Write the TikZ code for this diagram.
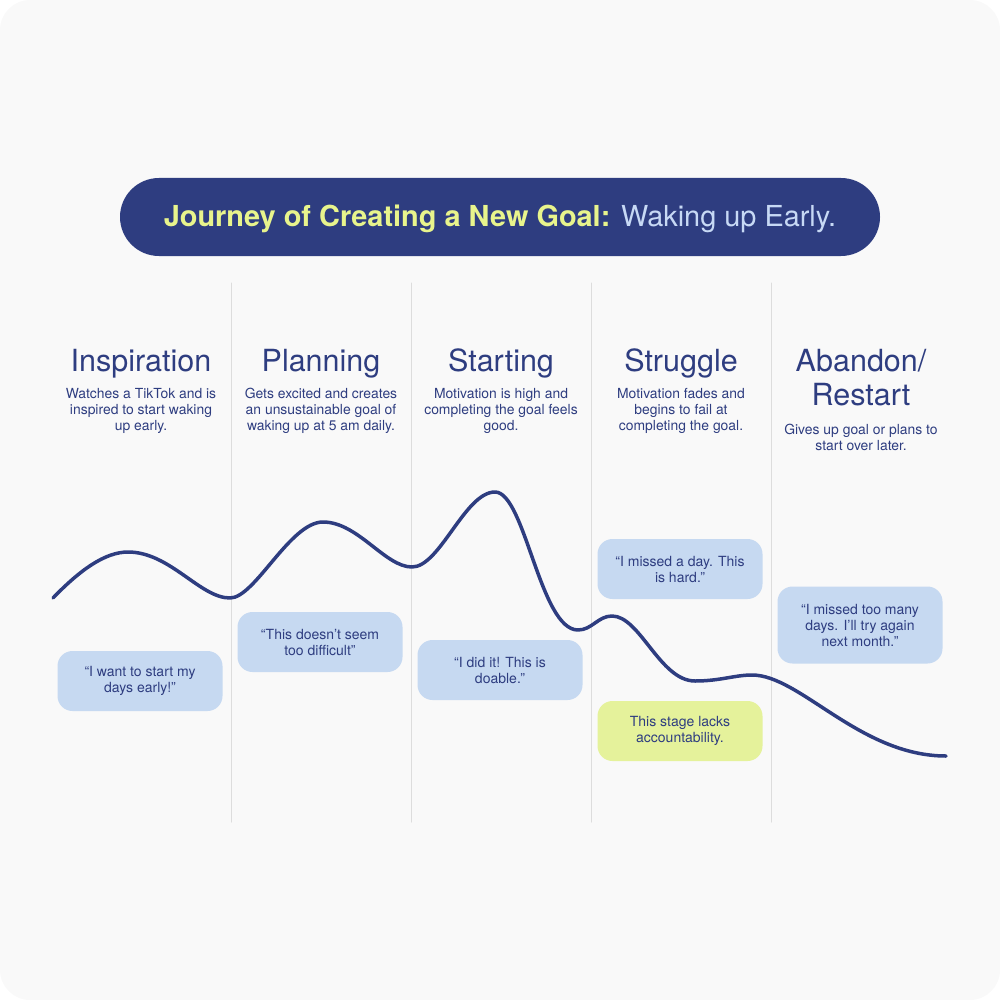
\documentclass[tikz,border=0pt]{standalone}
\usepackage{fontspec}
\setmainfont{TeX Gyre Heros}
\usetikzlibrary{positioning}
\definecolor{fg}{RGB}{46,61,128}
\definecolor{mu}{RGB}{221,221,221}
\definecolor{acc}{RGB}{229,242,155}
\definecolor{quote}{RGB}{198,217,241}
\definecolor{bg}{RGB}{249,249,249}
\definecolor{titleyl}{RGB}{232,244,140}
\definecolor{titlebl}{RGB}{199,217,245}
\tikzset{
  every picture/.style={fg, line cap=round, line join=round},
  % Schrift (base = Grundlinie der letzten Zeile)
  head/.style={font=\fontsize{30.5}{34}\selectfont, align=center, anchor=base, inner sep=0pt},
  desc/.style={font=\fontsize{13.9}{16}\selectfont, align=center, anchor=base, inner sep=0pt},
  % Linien
  sep/.style={mu, line width=1pt},
  curve/.style={line width=3.5pt},
  % Kästen
  pill/.style={fill=fg, rounded corners=39pt, minimum width=760pt, minimum height=78pt,
    text height=20pt, text depth=0pt, font=\fontsize{28.9}{34}\selectfont},
  bubble/.style={fill=#1, rounded corners=15pt, minimum width=165pt, minimum height=60pt,
    align=center, font=\fontsize{14}{16}\selectfont},
  bubble/.default=quote,
}
\begin{document}
\begin{tikzpicture}[x=1pt,y=-1pt]
  \useasboundingbox (0,0) rectangle (1000,1000);
  % Hintergrund
  \fill[bg, rounded corners=30pt] (0,0) rectangle (1000,1000);
  % Titel
  \node (title) [pill] at (500,217)
    {{\bfseries\color{titleyl}Journey of Creating a New Goal:} \color{titlebl}Waking up Early.};
  % Trennlinien zwischen den Phasen
  \foreach \x in {231,411,591,771}
    \draw[sep] (\x,283) -- (\x,822);
  % Phasen
  \node (insp) [head] at (141,371) {Inspiration};
  \node (plan) [head] at (321,371) {Planning};
  \node (start) [head] at (501,371) {Starting};
  \node (strug) [head] at (681,371) {Struggle};
  \node (aband) [head] at (861,405) {Abandon/\\Restart};
  \node (inspText) [desc] at (141,430) {Watches a TikTok and is\\inspired to start waking\\up early.};
  \node (planText) [desc] at (321,430) {Gets excited and creates\\an unsustainable goal of\\waking up at 5 am daily.};
  \node (startText) [desc] at (501,430) {Motivation is high and\\completing the goal feels\\good.};
  \node (strugText) [desc] at (681,430) {Motivation fades and\\begins to fail at\\completing the goal.};
  \node (abandText) [desc] at (861,450) {Gives up goal or plans to\\start over later.};
  % Verlauf der Motivation
  \draw[curve] (53,598) .. controls (80,570) and (105,552) .. (128,552)
    .. controls (170,552) and (200,598) .. (230,598)
    .. controls (255,598) and (290,522) .. (323,522)
    .. controls (358,522) and (385,567) .. (412,567)
    .. controls (440,567) and (465,492) .. (495,492)
    .. controls (525,492) and (540,630) .. (578,630)
    .. controls (592,630) and (598,616) .. (612,616)
    .. controls (640,616) and (660,681) .. (695,681)
    .. controls (720,681) and (735,675) .. (752,675)
    .. controls (800,675) and (860,756) .. (946,756);
  % Aussagen
  \node (q1) [bubble] at (140,681) {“I want to start my\\days early!”};
  \node (q2) [bubble] at (320,642) {“This doesn’t seem\\too difficult”};
  \node (q3) [bubble] at (500,670) {“I did it! This is\\doable.”};
  \node (q4) [bubble] at (680,569) {“I missed a day. This\\is hard.”};
  \node (note) [bubble=acc] at (680,731) {This stage lacks\\accountability.};
  \node (q5) [bubble, minimum height=77pt] at (860,625) {“I missed too many\\days. I’ll try again\\next month.”};
\end{tikzpicture}
\end{document}
